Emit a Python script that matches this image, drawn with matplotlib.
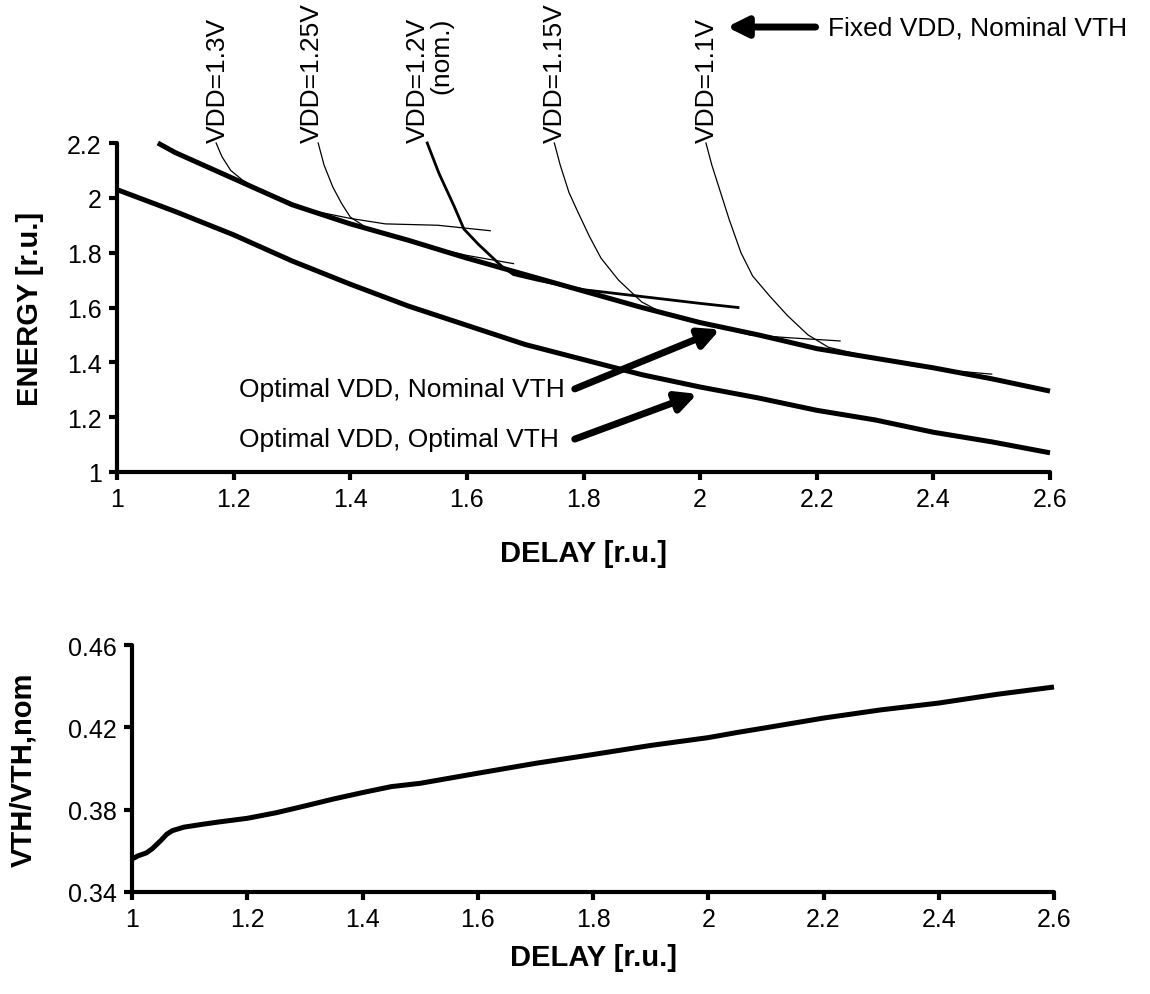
import matplotlib
matplotlib.use("Agg")
import matplotlib.pyplot as plt

plt.rcParams['font.family'] = ['Liberation Sans', 'DejaVu Sans']

# ---------------- data ----------------
# Optimal VDD, Nominal VTH (upper thick curve)
opt_nom_x = [1.07, 1.1, 1.2, 1.3, 1.4, 1.5, 1.6, 1.7, 1.8, 1.9, 2.0, 2.1, 2.2, 2.3, 2.4, 2.5, 2.6]
opt_nom_y = [2.20, 2.165, 2.07, 1.975, 1.905, 1.845, 1.78, 1.72, 1.66, 1.60, 1.545, 1.50, 1.45, 1.415, 1.38, 1.34, 1.295]

# Optimal VDD, Optimal VTH (lower thick curve)
opt_opt_x = [1.0, 1.1, 1.2, 1.3, 1.4, 1.5, 1.6, 1.7, 1.8, 1.9, 2.0, 2.1, 2.2, 2.3, 2.4, 2.5, 2.6]
opt_opt_y = [2.03, 1.95, 1.865, 1.77, 1.685, 1.605, 1.535, 1.465, 1.41, 1.355, 1.31, 1.27, 1.225, 1.19, 1.145, 1.11, 1.07]

# Fixed VDD, Nominal VTH curves
vdd130_x = [1.17, 1.18, 1.195, 1.215, 1.235, 1.28, 1.33, 1.40, 1.46, 1.55, 1.64]
vdd130_y = [2.20, 2.15, 2.10, 2.065, 2.04, 2.0, 1.955, 1.925, 1.905, 1.90, 1.88]

vdd125_x = [1.345, 1.355, 1.37, 1.385, 1.40, 1.425, 1.45, 1.50, 1.55, 1.60, 1.68]
vdd125_y = [2.20, 2.12, 2.04, 1.98, 1.93, 1.895, 1.87, 1.845, 1.815, 1.79, 1.76]

vdd120_x = [1.532, 1.552, 1.578, 1.595, 1.62, 1.64, 1.66, 1.68, 1.72, 1.8, 1.9, 2.0, 2.065]
vdd120_y = [2.20, 2.09, 1.97, 1.886, 1.83, 1.79, 1.75, 1.72, 1.70, 1.665, 1.64, 1.615, 1.60]

vdd115_x = [1.75, 1.76, 1.775, 1.79, 1.81, 1.83, 1.86, 1.90, 1.94, 1.98, 2.03, 2.085, 2.15, 2.24]
vdd115_y = [2.20, 2.12, 2.02, 1.95, 1.86, 1.78, 1.70, 1.62, 1.575, 1.55, 1.53, 1.50, 1.49, 1.478]

vdd110_x = [2.01, 2.02, 2.035, 2.05, 2.07, 2.09, 2.12, 2.15, 2.185, 2.22, 2.3, 2.37, 2.43, 2.5]
vdd110_y = [2.20, 2.12, 2.02, 1.92, 1.80, 1.715, 1.64, 1.57, 1.50, 1.455, 1.415, 1.385, 1.37, 1.357]

vdd_labels = ["VDD=1.3V", "VDD=1.25V", "VDD=1.2V\n(nom.)", "VDD=1.15V", "VDD=1.1V"]

# VTH ratio vs delay (bottom panel)
vth_x = [1.0, 1.01, 1.025, 1.035, 1.05, 1.06, 1.07, 1.09, 1.12, 1.15, 1.2, 1.25, 1.3, 1.35, 1.4,
         1.45, 1.5, 1.6, 1.7, 1.8, 1.85, 1.9, 2.0, 2.05, 2.1, 2.2, 2.3, 2.4, 2.5, 2.6]
vth_y = [0.356, 0.3575, 0.359, 0.361, 0.365, 0.368, 0.3698, 0.3715, 0.3728, 0.374, 0.3758, 0.3785,
         0.3818, 0.3852, 0.3883, 0.3912, 0.3928, 0.3977, 0.4025, 0.4068, 0.409, 0.4112, 0.415,
         0.4175, 0.4198, 0.4245, 0.4285, 0.4318, 0.436, 0.4396]

x_ticks = [1.0, 1.2, 1.4, 1.6, 1.8, 2.0, 2.2, 2.4, 2.6]
energy_ticks = [1.0, 1.2, 1.4, 1.6, 1.8, 2.0, 2.2]
vth_ticks = [0.34, 0.38, 0.42, 0.46]

# ---------------- figure ----------------
W, H = 1150, 995
fig = plt.figure(figsize=(W / 100, H / 100), dpi=100)
fig.patch.set_facecolor('white')

TICK_FS = 18
NOTE_FS = 19
LABEL_FS = 21


def style_axes(ax):
    for s in ['top', 'right']:
        ax.spines[s].set_visible(False)
    for s in ['left', 'bottom']:
        ax.spines[s].set_linewidth(3)
        ax.spines[s].set_capstyle('round')
    ax.tick_params(axis='both', direction='out', length=6, width=3,
                   labelsize=TICK_FS, pad=5)


ax1 = fig.add_axes([117 / W, 1 - 473 / H, (1050 - 117) / W, (473 - 144) / H])
style_axes(ax1)
ax1.set_xlim(1.0, 2.6)
ax1.set_ylim(1.0, 2.2)
ax1.set_xticks(x_ticks)
ax1.set_xticklabels([f"{v:g}" for v in x_ticks])
ax1.set_yticks(energy_ticks)
ax1.set_yticklabels([f"{v:g}" for v in energy_ticks])

ax1.plot(opt_nom_x, opt_nom_y, color='black', lw=3.6, solid_capstyle='butt', clip_on=False)
ax1.plot(opt_opt_x, opt_opt_y, color='black', lw=3.6, solid_capstyle='butt', clip_on=False)

thin = [(vdd130_x, vdd130_y, 0.9), (vdd125_x, vdd125_y, 0.9), (vdd120_x, vdd120_y, 2.0),
        (vdd115_x, vdd115_y, 0.9), (vdd110_x, vdd110_y, 0.9)]
for xs, ys, lw in thin:
    ax1.plot(xs, ys, color='black', lw=lw, clip_on=False)

label_x = [1.173, 1.334, 1.495, 1.751, 2.012]
label_ha = ['center', 'center', 'left', 'center', 'center']
for lx, txt, ha in zip(label_x, vdd_labels, label_ha):
    ax1.text(lx, 2.203, txt, rotation=90, ha=ha, va='bottom', fontsize=NOTE_FS,
             multialignment='right', linespacing=1.0, clip_on=False)

# annotation arrows
arrow_kw = dict(arrowstyle='-|>', color='black', lw=5, mutation_scale=30, shrinkA=0, shrinkB=0)
ax1.annotate("", xy=(2.034, 1.52), xytext=(1.785, 1.303), arrowprops=arrow_kw)
ax1.annotate("", xy=(1.995, 1.285), xytext=(1.785, 1.12), arrowprops=arrow_kw)
ax1.annotate("", xy=(2.046, 2.623), xytext=(2.198, 2.623), arrowprops=arrow_kw,
             annotation_clip=False)
ax1.text(1.767, 1.303, "Optimal VDD, Nominal VTH", ha='right', va='center', fontsize=NOTE_FS)
ax1.text(1.757, 1.12, "Optimal VDD, Optimal VTH", ha='right', va='center', fontsize=NOTE_FS)
ax1.text(2.22, 2.623, "Fixed VDD, Nominal VTH", ha='left', va='center', fontsize=NOTE_FS,
         clip_on=False)

ax1.set_xlabel("DELAY [r.u.]", fontsize=LABEL_FS, fontweight='bold')
ax1.set_ylabel("ENERGY [r.u.]", fontsize=LABEL_FS, fontweight='bold')
ax1.xaxis.set_label_coords(0.5, -0.205)
ax1.yaxis.set_label_coords(-0.078, 0.5)

# bottom panel
ax2 = fig.add_axes([132 / W, 1 - 893 / H, (1054 - 132) / W, (893 - 646) / H])
style_axes(ax2)
ax2.set_xlim(1.0, 2.6)
ax2.set_ylim(0.34, 0.46)
ax2.set_xticks(x_ticks)
ax2.set_xticklabels([f"{v:g}" for v in x_ticks])
ax2.set_yticks(vth_ticks)
ax2.set_yticklabels([f"{v:.2f}" for v in vth_ticks])
ax2.plot(vth_x, vth_y, color='black', lw=3.6, solid_capstyle='butt', clip_on=False)
ax2.set_xlabel("DELAY [r.u.]", fontsize=LABEL_FS, fontweight='bold')
ax2.set_ylabel("VTH/VTH,nom", fontsize=LABEL_FS, fontweight='bold')
ax2.xaxis.set_label_coords(0.5, -0.205)
ax2.yaxis.set_label_coords(-0.103, 0.5)

fig.savefig("out.png", dpi=100, facecolor='white')
